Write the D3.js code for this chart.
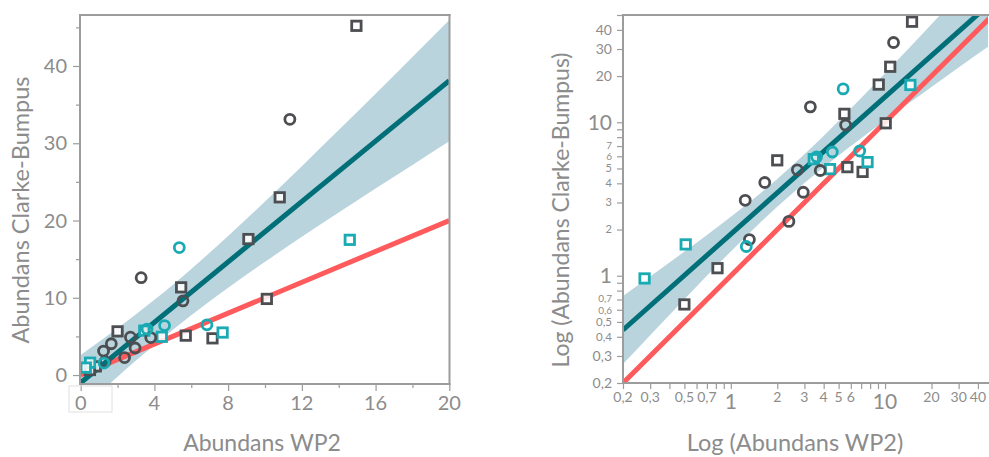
<!DOCTYPE html>
<html>
<head>
<meta charset="utf-8">
<script src="https://cdn.jsdelivr.net/npm/d3@7"></script>
<style>
  html, body { margin: 0; padding: 0; background: #fff; }
  svg { display: block; font-family: Lato, "Open Sans", sans-serif; }
</style>
</head>
<body>
<svg id="chart" width="989" height="457"></svg>
<script>
// ---- Samples: WP2 net vs Clarke-Bumpus sampler abundances ----
const wp2     = [14.96, 10.8, 9.1, 5.45, 10.1, 5.7, 7.15, 2.0, 0.82, 0.5,
                 11.35, 3.28, 5.55, 2.7, 3.8, 1.66, 2.95, 1.24, 2.38, 1.32,
                 14.6, 3.45, 4.4, 7.7, 0.51, 0.276,
                 5.35, 4.55, 6.85, 3.6, 1.26];
const clarke  = [45.2, 23.0, 17.6, 11.35, 9.85, 5.1, 4.75, 5.65, 1.12, 0.65,
                 33.1, 12.6, 9.6, 4.9, 4.85, 4.05, 3.5, 3.1, 2.26, 1.72,
                 17.5, 5.75, 4.95, 5.5, 1.6, 0.96,
                 16.5, 6.4, 6.5, 5.95, 1.55];
const shape   = ["square","square","square","square","square","square","square","square","square","square",
                 "circle","circle","circle","circle","circle","circle","circle","circle","circle","circle",
                 "square","square","square","square","square","square",
                 "circle","circle","circle","circle","circle"];
const group   = ["A","A","A","A","A","A","A","A","A","A",
                 "A","A","A","A","A","A","A","A","A","A",
                 "B","B","B","B","B","B",
                 "B","B","B","B","B"];

// Linear panel: fitted regression and its confidence band
const linFitX   = [0, 20];
const linFitY   = [-1.0, 38.1];
const linBandX  = [0, 1, 2, 3, 4, 5, 6, 8, 10, 12, 14, 16, 18, 20];
const linBandHi = [2.6, 4.3, 6.05, 7.87, 9.74, 11.7, 13.73, 17.99, 22.45, 27.03, 31.7, 36.42, 41.18, 45.95];
const linBandLo = [-4.6, -2.4, -0.23, 1.87, 3.9, 5.86, 7.73, 11.29, 14.65, 17.89, 21.04, 24.14, 27.2, 30.25];
const linOneToOneX = [0, 20];

// Log panel: fitted regression and its confidence band
const logFitX   = [0.2, 46.5];
const logFitY   = [0.443, 57.8];
const logBandX  = [0.2, 0.3, 0.5, 0.7, 1, 1.5, 2, 3, 5, 7, 10, 15, 20, 30, 46.5];
const logBandHi = [0.738, 0.989, 1.436, 1.844, 2.421, 3.347, 4.276, 6.178, 10.2, 14.38, 20.88, 32.04, 43.54, 67.18, 107.5];
const logBandLo = [0.2657, 0.4096, 0.7035, 1.0, 1.441, 2.15, 2.818, 4.022, 6.079, 7.862, 10.25, 13.79, 16.98, 22.71, 31.01];
const logOneToOneX = [0.2, 50];

// Tick labels
const linXTicks = [0, 4, 8, 12, 16, 20];
const linXMinor = [2, 6, 10, 14, 18];
const linYTicks = [0, 10, 20, 30, 40];
const linYMinor = [5, 15, 25, 35, 45];

const logXTickValues = [0.2, 0.3, 0.5, 0.7, 1, 2, 3, 4, 5, 6, 10, 20, 30, 40];
const logXTickText   = ["0,2","0,3","0,5","0,7","1","2","3","4","5","6","10","20","30","40"];
const logYTickValues = [0.2, 0.3, 0.4, 0.5, 0.6, 0.7, 1, 2, 3, 4, 5, 6, 7, 10, 20, 30, 40];
const logYTickText   = ["0,2","0,3","0,4","0,5","0,6","0,7","1","2","3","4","5","6","7","10","20","30","40"];
const bigLogTicks    = [1, 10];
const tightLogTicks  = [0.6, 0.7, 6, 7];

const titles = {
  linX: "Abundans WP2",
  linY: "Abundans Clarke-Bumpus",
  logX: "Log (Abundans WP2)",
  logY: "Log (Abundans Clarke-Bumpus)"
};

// ---- Styling ----
const C = {
  frame: "#9c9c9c",
  text: "#8c8c8c",
  band: "#b9d4dd",
  fit: "#006f78",
  one: "#ff5a5c",
  dark: "#4d4e52",
  teal: "#19aab3"
};

const svg = d3.select("#chart");
const points = wp2.map((x, i) => ({ x, y: clarke[i], shape: shape[i], group: group[i] }));

function drawPoints(g, xs, ys) {
  const colour = d => d.group === "A" ? C.dark : C.teal;
  g.selectAll("rect.pt").data(points.filter(d => d.shape === "square")).join("rect")
    .attr("class", "pt")
    .attr("x", d => xs(d.x) - 4.7).attr("y", d => ys(d.y) - 4.7)
    .attr("width", 9.4).attr("height", 9.4)
    .attr("fill", "#fff").attr("fill-opacity", 0.85)
    .attr("stroke", colour).attr("stroke-width", 2.8);
  g.selectAll("circle.pt").data(points.filter(d => d.shape === "circle")).join("circle")
    .attr("class", "pt")
    .attr("cx", d => xs(d.x)).attr("cy", d => ys(d.y)).attr("r", 5)
    .attr("fill", "none")
    .attr("stroke", colour).attr("stroke-width", 2.8);
}

function frame(g, x0, x1, y0, y1, withRight) {
  const segs = [[x0, y0, x1, y0], [x0, y0, x0, y1], [x0, y1, x1, y1]];
  if (withRight) segs.push([x1, y0, x1, y1]);
  g.selectAll("line.frame").data(segs).join("line")
    .attr("class", "frame")
    .attr("x1", d => d[0]).attr("y1", d => d[1]).attr("x2", d => d[2]).attr("y2", d => d[3])
    .attr("stroke", C.frame).attr("stroke-width", 2).attr("stroke-linecap", "square");
}

function styleTicks(axisG) {
  axisG.select(".domain").remove();
  axisG.selectAll(".tick line").attr("stroke", C.frame).attr("stroke-width", 1.2);
  axisG.selectAll(".tick text").remove();
}

// ================= Linear panel =================
{
  const L = { x0: 80, x1: 449.5, y0: 15, y1: 384 };
  const xs = d3.scaleLinear().domain([0, 20]).range([80.7, 449.3]);
  const ys = d3.scaleLinear().domain([-1.16, 46.6]).range([L.y1, L.y0]);
  const g = svg.append("g");

  g.append("clipPath").attr("id", "clipLin").append("rect")
    .attr("x", L.x0).attr("y", L.y0).attr("width", L.x1 - L.x0).attr("height", L.y1 - L.y0);
  const plot = g.append("g").attr("clip-path", "url(#clipLin)");

  const band = d3.area().curve(d3.curveMonotoneX)
    .x(d => xs(d)).y0((d, i) => ys(linBandLo[i])).y1((d, i) => ys(linBandHi[i]));
  plot.append("path").datum(linBandX).attr("d", band).attr("fill", C.band);

  plot.append("line")
    .attr("x1", xs(linOneToOneX[0])).attr("y1", ys(linOneToOneX[0]))
    .attr("x2", xs(linOneToOneX[1])).attr("y2", ys(linOneToOneX[1]))
    .attr("stroke", C.one).attr("stroke-width", 5);
  plot.append("line")
    .attr("x1", xs(linFitX[0])).attr("y1", ys(linFitY[0]))
    .attr("x2", xs(linFitX[1])).attr("y2", ys(linFitY[1]))
    .attr("stroke", C.fit).attr("stroke-width", 5);

  drawPoints(plot, xs, ys);

  // ticks
  const ax = g.append("g").attr("transform", `translate(0,${L.y1})`)
    .call(d3.axisBottom(xs).tickValues(linXTicks).tickSize(7)); styleTicks(ax);
  const axm = g.append("g").attr("transform", `translate(0,${L.y1})`)
    .call(d3.axisBottom(xs).tickValues(linXMinor).tickSize(4)); styleTicks(axm);
  const ay = g.append("g").attr("transform", `translate(${L.x0},0)`)
    .call(d3.axisLeft(ys).tickValues(linYTicks).tickSize(7)); styleTicks(ay);
  const aym = g.append("g").attr("transform", `translate(${L.x0},0)`)
    .call(d3.axisLeft(ys).tickValues(linYMinor).tickSize(4)); styleTicks(aym);

  frame(g, L.x0, L.x1, L.y0, L.y1, true);

  // small outline around the origin label
  g.append("rect").attr("x", 69).attr("y", 386).attr("width", 43).attr("height", 26)
    .attr("fill", "none").attr("stroke", "#e0e0e0").attr("stroke-width", 1);

  g.selectAll("text.xt").data(linXTicks).join("text").attr("class", "xt")
    .attr("x", d => xs(d)).attr("y", 410).attr("text-anchor", "middle")
    .attr("font-size", 20).attr("fill", C.text).text(d => d);
  g.selectAll("text.yt").data(linYTicks).join("text").attr("class", "yt")
    .attr("x", 67).attr("y", d => ys(d)).attr("dy", "0.36em").attr("text-anchor", "end")
    .attr("font-size", 20).attr("fill", C.text).text(d => d);

  g.append("text").attr("x", 262).attr("y", 451).attr("text-anchor", "middle")
    .attr("font-size", 23).attr("fill", C.text).text(titles.linX);
  g.append("text").attr("transform", "translate(29,210) rotate(-90)").attr("text-anchor", "middle")
    .attr("font-size", 23.5).attr("fill", C.text).text(titles.linY);
}

// ================= Log panel =================
{
  const R = { x0: 623, x1: 988, y0: 15, y1: 383 };
  const xs = d3.scaleLog().domain([0.2, 46.5]).range([R.x0, R.x1]);
  const ys = d3.scaleLog().domain([0.2, 50]).range([R.y1, R.y0]);
  const g = svg.append("g");

  g.append("clipPath").attr("id", "clipLog").append("rect")
    .attr("x", R.x0).attr("y", R.y0).attr("width", R.x1 - R.x0).attr("height", R.y1 - R.y0);
  const plot = g.append("g").attr("clip-path", "url(#clipLog)");

  const band = d3.area().curve(d3.curveMonotoneX)
    .x(d => xs(d)).y0((d, i) => ys(logBandLo[i])).y1((d, i) => ys(logBandHi[i]));
  plot.append("path").datum(logBandX).attr("d", band).attr("fill", C.band);

  plot.append("line")
    .attr("x1", xs(logOneToOneX[0])).attr("y1", ys(logOneToOneX[0]))
    .attr("x2", xs(logOneToOneX[1])).attr("y2", ys(logOneToOneX[1]))
    .attr("stroke", C.one).attr("stroke-width", 5);
  plot.append("line")
    .attr("x1", xs(logFitX[0])).attr("y1", ys(logFitY[0]))
    .attr("x2", xs(logFitX[1])).attr("y2", ys(logFitY[1]))
    .attr("stroke", C.fit).attr("stroke-width", 5);

  drawPoints(plot, xs, ys);

  const ax = g.append("g").attr("transform", `translate(0,${R.y1})`)
    .call(d3.axisBottom(xs).tickValues(xs.ticks()).tickSize(6)); styleTicks(ax);
  const ay = g.append("g").attr("transform", `translate(${R.x0},0)`)
    .call(d3.axisLeft(ys).tickValues(ys.ticks()).tickSize(6)); styleTicks(ay);

  frame(g, R.x0, R.x1, R.y0, R.y1, false);

  const isBig = v => bigLogTicks.includes(v);
  const isTight = v => tightLogTicks.includes(v);
  const ySize = d => isBig(d) ? 21 : isTight(d) ? 10 : (d >= 2 && d <= 5 ? 11 : (d >= 0.4 && d <= 0.5 ? 11.5 : 14));
  // the most crowded labels sit a touch apart so they stay readable
  const yNudge = d => (d === 0.7 || d === 7) ? -1 : (d === 0.6 || d === 6) ? 0.5 : 0;
  g.selectAll("text.xt").data(logXTickValues).join("text").attr("class", "xt")
    .attr("x", d => xs(d)).attr("y", d => isBig(d) ? 409 : 402)
    .attr("text-anchor", "middle")
    .attr("font-size", d => isBig(d) ? 21 : 14).attr("fill", C.text)
    .text((d, i) => logXTickText[i]);
  g.selectAll("text.yt").data(logYTickValues).join("text").attr("class", "yt")
    .attr("x", 612).attr("y", d => ys(d) + yNudge(d)).attr("dy", "0.36em").attr("text-anchor", "end")
    .attr("font-size", ySize).attr("fill", C.text)
    .text((d, i) => logYTickText[i]);

  g.append("text").attr("x", 795).attr("y", 451).attr("text-anchor", "middle")
    .attr("font-size", 23.5).attr("fill", C.text).text(titles.logX);
  g.append("text").attr("transform", "translate(569,210) rotate(-90)").attr("text-anchor", "middle")
    .attr("font-size", 23).attr("fill", C.text).text(titles.logY);
}
</script>
</body>
</html>
